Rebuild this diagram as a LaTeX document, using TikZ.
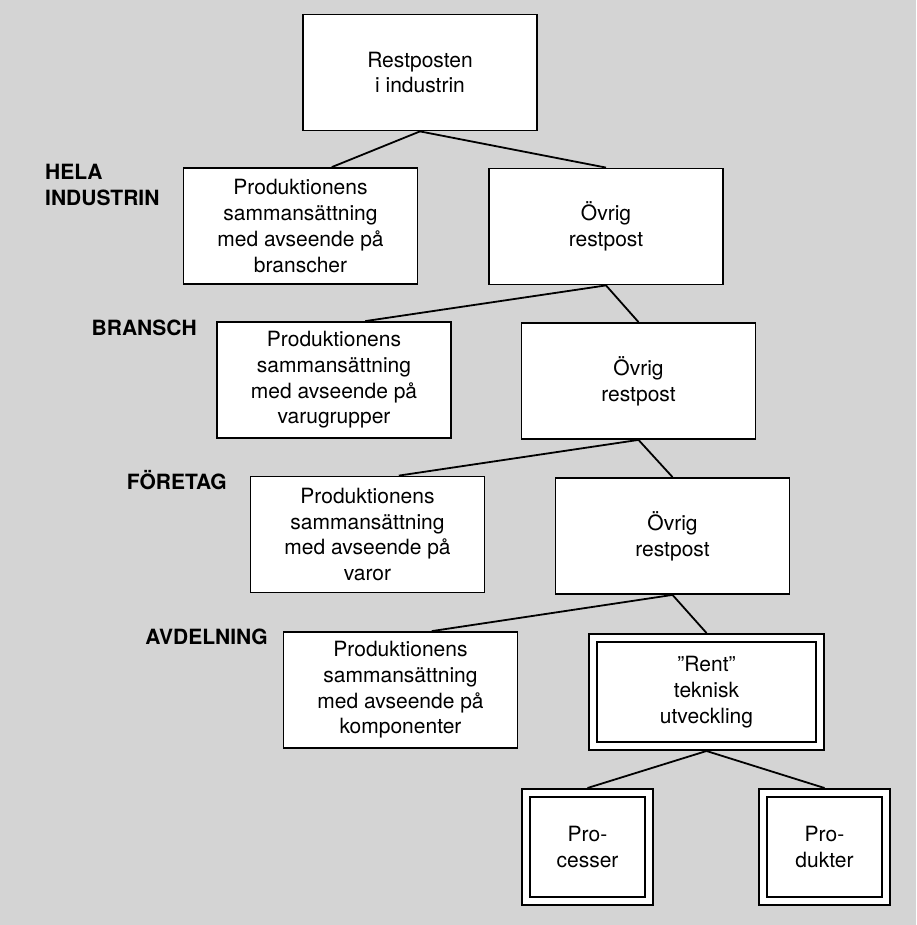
\documentclass[tikz,border=0pt]{standalone}
\usepackage{fontspec}
\setmainfont{TeX Gyre Heros}
\usepackage{tikz}
\usetikzlibrary{positioning}

\definecolor{paper}{RGB}{212,212,212}
\newcommand{\diagfont}{\fontsize{21pt}{25.7pt}\selectfont}

\tikzset{
  box/.style={draw, fill=white, line width=1.8pt, align=center, inner sep=0pt,
              minimum width=234pt, minimum height=116pt, font=\diagfont},
  dbox/.style={box, line width=1.6pt, double, double distance=6.8pt, outer sep=5pt,
               minimum height=108pt},
  level/.style={font=\diagfont\bfseries, inner sep=0pt, text height=15pt, text depth=0pt, anchor=east},
  link/.style={line width=1.8pt},
}

\begin{document}
\begin{tikzpicture}[x=1pt, y=-1pt]
    \fill[paper] (0,0) rectangle (916,925);
    \useasboundingbox (0,0) rectangle (916,925);

    % levels
    \node[font=\diagfont\bfseries, inner sep=0pt, align=left, anchor=west] (hela) at (45,185) {HELA\\INDUSTRIN};
    \node[level] (bransch) at (197,328) {BRANSCH};
    \node[level] (foretag) at (227,482) {FÖRETAG};
    \node[level] (avdelning) at (268,637) {AVDELNING};

    % tree
    \node[box] (r0) at (420,72.5) {Restposten\\i industrin};
    \node[box] (p1) at (300.5,226) {Produktionens\\sammansättning\\med avseende på\\branscher};
    \node[box] (o1) at (606,226.5) {Övrig\\restpost};
    \node[box] (p2) at (334,380) {Produktionens\\sammansättning\\med avseende på\\varugrupper};
    \node[box] (o2) at (638.5,381) {Övrig\\restpost};
    \node[box] (p3) at (367.5,534.5) {Produktionens\\sammansättning\\med avseende på\\varor};
    \node[box] (o3) at (672.5,536) {Övrig\\restpost};
    \node[box] (p4) at (400.5,690) {Produktionens\\sammansättning\\med avseende på\\komponenter};
    \node[dbox, minimum width=227pt] (rent) at (706.5,692) {”Rent”\\teknisk\\utveckling};
    \node[dbox, minimum width=123pt] (proc) at (587.5,847) {Pro-\\cesser};
    \node[dbox, minimum width=123pt] (prod) at (824.5,847) {Pro-\\dukter};

    \draw[link] (r0.south) -- (p1.62);
    \draw[link] (r0.south) -- (o1.north);
    \draw[link] (o1.south) -- (p2.62);
    \draw[link] (o1.south) -- (o2.north);
    \draw[link] (o2.south) -- (p3.62);
    \draw[link] (o2.south) -- (o3.north);
    \draw[link] (o3.south) -- (p4.62);
    \draw[link] (o3.south) -- (rent.north);
    \draw[link] (rent.south) -- (proc.north);
    \draw[link] (rent.south) -- (prod.north);
\end{tikzpicture}
\end{document}
